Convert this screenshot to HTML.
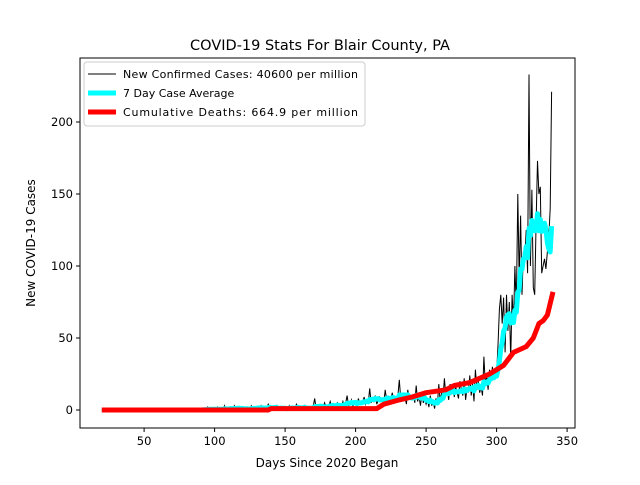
<!DOCTYPE html>
<html><head><meta charset="utf-8"><style>body{margin:0;background:#fff}svg{font-family:"DejaVu Sans","Liberation Sans",sans-serif}</style></head>
<body>
<svg id="c" width="640" height="480"></svg>
<script>
const caseStartDay = 20;
const cases = [
0,0,0,0,0,0,0,0,0,0, 0,0,0,0,0,0,0,0,0,0, 0,0,0,0,0,0,0,0,0,0, 0,0,0,0,0,0,0,0,0,0,
0,0,0,0,0,0,0,0,0,0, 0,0,0,0,0,0,0,0,0,0, 0,0,0,0,0,0,0,0,0,0,
0,0,1,0,0,2,0,1,0,0, 1,0,2,0,0,1,0,3,0,1, 0,2,1,0,3,1,0,2,1,0, 1,0,2,1,0,1,3,0,1,2,
1,2,0,3,1,0,2,1,4,2, 1,0,2,1,3,0,1,2,0,1, 2,1,0,3,1,2,0,1,4,2, 1,0,2,1,3,0,2,1,0,2,
3,8,1,2,0,3,1,2,5,2, 1,3,6,2,4,1,3,5,2,4, 3,6,2,5,10,3,4,7,2,5, 6,3,8,4,6,5,9,4,7,5,
15,5,8,6,10,4,7,9,6,8, 5,14,7,10,4,8,12,6,9,7, 10,21,8,12,6,9,4,14,7,10, 8,11,5,17,6,9,3,12,5,8,
4,7,2,10,3,6,1,8,4,18, 6,12,8,22,10,14,7,18,11,15, 9,16,12,8,20,14,10,22,7,15, 13,24,10,18,6,28,14,20,12,16,
10,37,18,24,14,28,20,30,22,26, 25,45,70,80,60,78,40,80,55,75, 35,80,60,100,70,150,90,135,80,110,
105,125,95,233,100,153,85,80,130,173, 150,155,95,100,105,98,110,120,140,221];
const deathDays = [20,138,140,215,220,231,240,250,264,270,281,288,295,300,305,312,321,326,330,333,336,340];
const deathVals = [0,0,1,1,4,7,9,12,14,17,19,22,25,28,31,40,44,50,60,62,66,82];
const xTicks = [50,100,150,200,250,300,350];
const yTicks = [0,50,100,150,200];

const svg=document.getElementById('c'), NS='http://www.w3.org/2000/svg';
const L=80,R=575,T=58,B=428;
const X=d=>73.6+1.41*d, Y=v=>410-1.44*v;
function mk(t,a,txt){const e=document.createElementNS(NS,t);for(const k in a)e.setAttribute(k,a[k]);if(txt!==undefined)e.textContent=txt;svg.appendChild(e);return e;}
let e=mk('text',{x:320,y:50,'text-anchor':'middle','font-size':14.5},'COVID-19 Stats For Blair County, PA');

xTicks.forEach(t=>{mk('line',{x1:X(t),x2:X(t),y1:B,y2:B+4,stroke:'#000'});
 const q=mk('text',{x:X(t),y:B+17,'text-anchor':'middle','font-size':11.5},t);
 });
yTicks.forEach(t=>{mk('line',{x1:L,x2:L-4,y1:Y(t),y2:Y(t),stroke:'#000'});
 const q=mk('text',{x:L-7,y:Y(t)+4,'text-anchor':'end','font-size':11.5},t);
 });
e=mk('text',{x:327,y:467,'text-anchor':'middle','font-size':12},'Days Since 2020 Began');

e=mk('text',{x:0,y:0,'text-anchor':'middle','font-size':12,transform:'translate(35,243) rotate(-90)'},'New COVID-19 Cases');


const cp=cases.map((v,i)=>X(caseStartDay+i).toFixed(1)+','+Y(v).toFixed(1)).join(' ');
e=mk('polyline',{points:cp,fill:'none',stroke:'#000','stroke-width':1});

const avg=cases.map((v,i)=>{const s=cases.slice(Math.max(0,i-6),i+1);return s.reduce((a,b)=>a+b,0)/s.length;});
const ap=avg.map((v,i)=>X(caseStartDay+i).toFixed(1)+','+Y(v).toFixed(1)).join(' ');
e=mk('polyline',{points:ap,fill:'none',stroke:'#00ffff','stroke-width':5,'stroke-linejoin':'round'});

const dp=deathDays.map((d,i)=>X(d).toFixed(1)+','+Y(deathVals[i]).toFixed(1)).join(' ');
e=mk('polyline',{points:dp,fill:'none',stroke:'#ff0000','stroke-width':5,'stroke-linejoin':'round'});


e=mk('rect',{x:L,y:T,width:R-L,height:B-T,fill:'none',stroke:'#000','stroke-width':1});


e=mk('rect',{x:84,y:62,width:281,height:64,rx:3,fill:'#fff','fill-opacity':0.8,stroke:'#ccc'});

const leg=[['New Confirmed Cases: 40600 per million','#000',1,74],['7 Day Case Average','#00ffff',5,93],['Cumulative Deaths: 664.9 per million','#ff0000',5,112]];
leg.forEach(l=>{mk('line',{x1:88,x2:116,y1:l[3],y2:l[3],stroke:l[1],'stroke-width':l[2]});
 const q=mk('text',{x:123,y:l[3]+4,'font-size':11,textLength:l[0].length>30?235:0});
 q.textContent=l[0];
 if(l[0].length<=30) q.removeAttribute('textLength');
 });
</script>
</body></html>
